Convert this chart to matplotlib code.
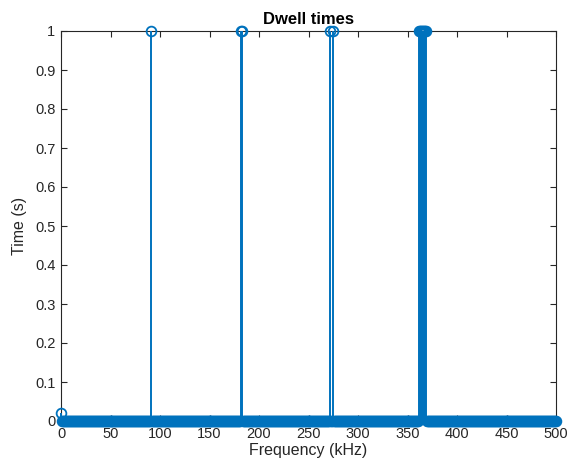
import numpy as np
import matplotlib
matplotlib.use("Agg")
import matplotlib.pyplot as plt

plt.rcParams["font.family"] = ["Liberation Sans", "DejaVu Sans"]

# ---------- Data ----------
# frequency bins of the dwell table (1 kHz grid, 0..500 kHz)
freq_step_khz = 1.0
freq_max_khz = 500.0
# bins that carry a non-zero dwell time
peak_freqs_khz = [0, 91, 182, 183, 272, 275, 362, 363, 364, 365, 366, 367, 368, 369]
peak_times_s = [0.02, 1, 1, 1, 1, 1, 1, 1, 1, 1, 1, 1, 1, 1]

freqs = np.arange(0, freq_max_khz + freq_step_khz, freq_step_khz)
dwell = np.zeros_like(freqs)
for f, t in zip(peak_freqs_khz, peak_times_s):
    dwell[np.argmin(np.abs(freqs - f))] = t

x_ticks = np.arange(0, 501, 50)
y_ticks = np.round(np.arange(0, 1.01, 0.1), 1)

BLUE = "#0072BD"
AXC = "#262626"

# ---------- Plot ----------
fig = plt.figure(figsize=(5.68, 4.68), dpi=100)
ax = fig.add_axes([61 / 568, 47 / 468, 495 / 568, 390 / 468])

ax.vlines(freqs, 0, dwell, color=BLUE, lw=1.4, clip_on=False, zorder=3)
ax.plot(freqs, dwell, "o", mfc="none", mec=BLUE, ms=7, mew=1.3,
        clip_on=False, zorder=4)
ax.axhline(0, color=BLUE, lw=1, zorder=2)

ax.set_xlim(0, 500)
ax.set_ylim(0, 1)
ax.set_xticks(x_ticks)
ax.set_xticklabels([f"{v:g}" for v in x_ticks])
ax.set_yticks(y_ticks)
ax.set_yticklabels([f"{v:g}" for v in y_ticks])

ax.tick_params(direction="in", top=True, right=True, length=4, width=0.8,
               colors=AXC, labelsize=10.5, pad=4)
for s in ax.spines.values():
    s.set_color(AXC)
    s.set_linewidth(0.8)

ax.set_xlabel("Frequency (kHz)", fontsize=11.5, color=AXC, labelpad=2)
ax.set_ylabel("Time (s)", fontsize=11.5, color=AXC, labelpad=6)
ax.set_title("Dwell times", fontsize=12, fontweight="bold", color="black", pad=5)

plt.savefig("out.png", dpi=100)
plt.close()
